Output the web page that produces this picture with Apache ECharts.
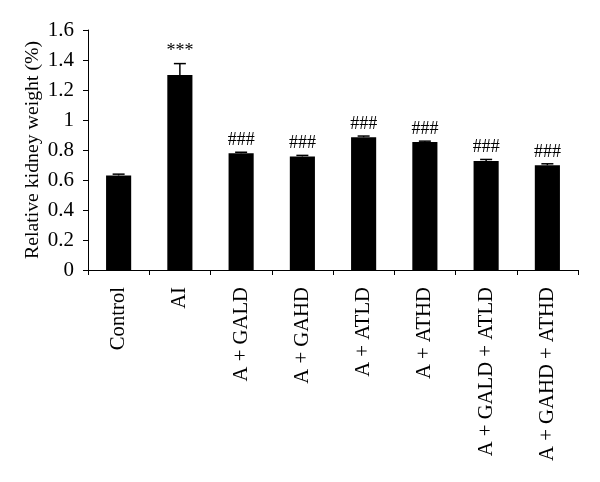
<!DOCTYPE html>
<html>
<head>
<meta charset="utf-8">
<script src="https://cdn.jsdelivr.net/npm/echarts@6/dist/echarts.min.js"></script>
<style>html,body{margin:0;padding:0;background:#fff}#c{width:600px;height:482px}</style>
</head>
<body>
<div id="c"></div>
<script>
const categories = ['Control', 'AI', 'A + GALD', 'A + GAHD', 'A + ATLD', 'A + ATHD', 'A + GALD + ATLD', 'A + GAHD + ATHD'];
const values = [0.63, 1.30, 0.778, 0.757, 0.885, 0.853, 0.727, 0.698];
const errors = [0.009, 0.076, 0.007, 0.007, 0.008, 0.006, 0.01, 0.01];
const marks = ['', '***', '###', '###', '###', '###', '###', '###'];
const yTicks = [0, 0.2, 0.4, 0.6, 0.8, 1, 1.2, 1.4, 1.6];

const FONT = '"Liberation Serif", "Times New Roman", serif';
const chart = echarts.init(document.getElementById('c'), null, {renderer: 'canvas'});
chart.setOption({
  animation: false,
  grid: {left: 88, right: 22, top: 30, bottom: 212},
  xAxis: {
    type: 'category',
    data: categories,
    boundaryGap: true,
    axisLine: {lineStyle: {color: '#000', width: 1}},
    axisTick: {show: true, inside: false, length: 5, lineStyle: {color: '#000'}},
    axisLabel: {rotate: 90, margin: 17, color: '#000', fontFamily: FONT, fontSize: 20.7}
  },
  yAxis: {
    type: 'value',
    min: 0, max: 1.6, interval: 0.2,
    name: 'Relative kidney weight (%)',
    nameLocation: 'middle',
    nameGap: 45,
    nameMoveOverlap: false,
    nameTextStyle: {color: '#000', fontFamily: FONT, fontSize: 19.8},
    axisLine: {show: true, lineStyle: {color: '#000', width: 1}},
    axisTick: {show: true, length: 5, lineStyle: {color: '#000'}},
    splitLine: {show: false},
    axisLabel: {
      color: '#000', fontFamily: FONT, fontSize: 21, margin: 14,
      formatter: v => { const t = yTicks.find(x => Math.abs(x - v) < 1e-9); return t === undefined ? '' : String(t); }
    }
  },
  series: [
    {
      type: 'bar',
      data: values,
      barWidth: '41%',
      itemStyle: {color: '#000'}
    },
    {
      type: 'custom',
      data: values.map((v, i) => [i, v, errors[i]]),
      renderItem: function (params, api) {
        const i = api.value(0), v = api.value(1), e = api.value(2);
        const base = api.coord([i, v]);
        const top = api.coord([i, v + e]);
        const hw = 6;
        const children = [
          {type: 'line', shape: {x1: base[0], y1: base[1], x2: top[0], y2: top[1]}, style: {stroke: '#000', lineWidth: 1.5}},
          {type: 'line', shape: {x1: top[0] - hw, y1: top[1], x2: top[0] + hw, y2: top[1]}, style: {stroke: '#000', lineWidth: 1.5}}
        ];
        if (marks[i]) {
          children.push({type: 'text', x: top[0], y: top[1] - 3, style: {text: marks[i], fill: '#000', font: '18px ' + FONT, align: 'center', verticalAlign: 'bottom'}});
        }
        return {type: 'group', children: children};
      },
      z: 5
    }
  ]
});
</script>
</body>
</html>
